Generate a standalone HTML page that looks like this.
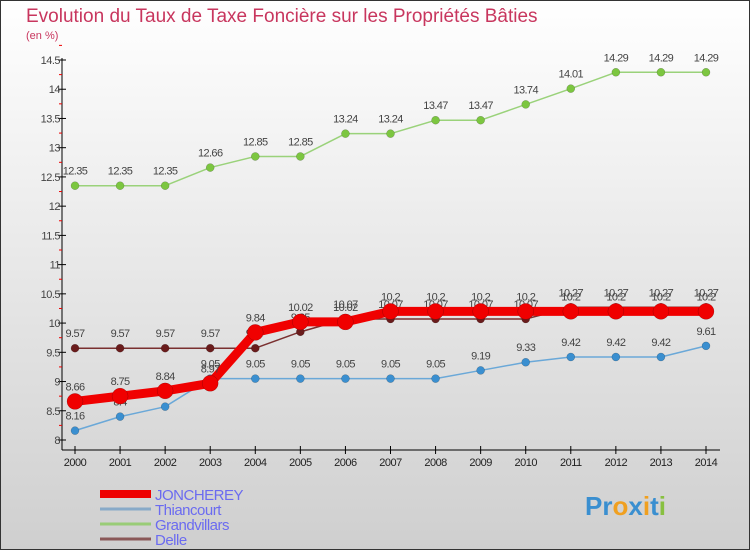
<!DOCTYPE html>
<html><head><meta charset="utf-8"><style>
html,body{margin:0;padding:0}
body{width:750px;height:550px;overflow:hidden;font-family:"Liberation Sans",sans-serif}
svg{display:block}
</style></head><body>
<svg id="chart" width="750" height="550">
<defs><linearGradient id="bg" x1="0" y1="0" x2="0" y2="1"><stop offset="0" stop-color="#ffffff"/><stop offset="1" stop-color="#cfcfcf"/></linearGradient></defs>
<rect x="0.5" y="0.5" width="749" height="549" fill="url(#bg)" stroke="#333"/>
<text x="26" y="22" font-size="19" fill="#c8365e">Evolution du Taux de Taxe Foncière sur les Propriétés Bâties</text>
<text x="26" y="39" font-size="11" fill="#c8365e">(en %)</text>
<g id="axes"></g><g id="series"></g><g id="legend"></g>
<g font-size="26" font-weight="bold">
<text x="585" y="515"><tspan fill="#3a8fd0">Pr</tspan><tspan fill="#f0a020">o</tspan><tspan fill="#3a8fd0">x</tspan><tspan fill="#f0a020">i</tspan><tspan fill="#3a8fd0">t</tspan><tspan fill="#88c040">i</tspan></text>
</g>
</svg>
<script>
const years=[2000,2001,2002,2003,2004,2005,2006,2007,2008,2009,2010,2011,2012,2013,2014];
const joncherey=[8.66,8.75,8.84,8.97,9.84,10.02,10.02,10.2,10.2,10.2,10.2,10.2,10.2,10.2,10.2];
const thiancourt=[8.16,8.4,8.57,9.05,9.05,9.05,9.05,9.05,9.05,9.19,9.33,9.42,9.42,9.42,9.61];
const grandvillars=[12.35,12.35,12.35,12.66,12.85,12.85,13.24,13.24,13.47,13.47,13.74,14.01,14.29,14.29,14.29];
const delle=[9.57,9.57,9.57,9.57,9.57,9.85,10.07,10.07,10.07,10.07,10.07,10.27,10.27,10.27,10.27];
const yTicks=[8,8.5,9,9.5,10,10.5,11,11.5,12,12.5,13,13.5,14,14.5];
const NS='http://www.w3.org/2000/svg';
const x=i=>75+i*(706-75)/(years.length-1);
const y=v=>440-(v-8)*(380/6.5);
function mk(tag,attrs,parent,text){const e=document.createElementNS(NS,tag);for(const k in attrs)e.setAttribute(k,attrs[k]);if(text!==undefined)e.textContent=text;parent.appendChild(e);return e;}
const axes=document.getElementById('axes');
let a=mk('line',{x1:62,y1:58,x2:62,y2:450,stroke:'#000'},axes);


a=mk('line',{x1:62,y1:450,x2:720,y2:450,stroke:'#000'},axes);


yTicks.forEach(v=>{
  mk('line',{x1:58,y1:y(v),x2:66,y2:y(v),stroke:'#000'},axes);
  mk('line',{x1:59,y1:y(v+0.25),x2:62,y2:y(v+0.25),stroke:'#e00'},axes);
  const t=mk('text',{x:60,y:y(v)+4,'font-size':11,'text-anchor':'end',fill:'#444','letter-spacing':'-0.5'},axes,String(v));
  
  
});
years.forEach((yr,i)=>{
  mk('line',{x1:x(i),y1:446,x2:x(i),y2:454,stroke:'#000'},axes);
  const t=mk('text',{x:x(i),y:466,'font-size':11,'text-anchor':'middle',fill:'#222','letter-spacing':'-0.5'},axes,String(yr));
  
  
});
const series=document.getElementById('series');
function draw(data,color,dot,w,r,name,lblColor){
  const g=mk('g',{},series);
  
  
  const l=mk('polyline',{points:data.map((v,i)=>x(i)+','+y(v)).join(' '),fill:'none',stroke:color,'stroke-width':w,'stroke-linejoin':'round'},g);
  
  
  data.forEach((v,i)=>{
    const c=mk('circle',{cx:x(i),cy:y(v),r:r,fill:dot,stroke:'rgba(0,0,0,0.3)','stroke-width':0.5},g);
    
    
    const t=mk('text',{x:x(i),y:y(v)-11,'font-size':11,'text-anchor':'middle',fill:'#444','letter-spacing':'-0.6'},g,String(v));
    
    
  });
}
draw(grandvillars,'#9ad27a','#7cc640',1.5,4,'grandvillars');
draw(thiancourt,'#6aa8d8','#3a8fd0',1.5,4,'thiancourt');
draw(delle,'#7a3030','#6a1c1c',1.5,4,'delle');
draw(joncherey,'#f00000','#f00000',9,8,'joncherey');
const legend=document.getElementById('legend');
const lg=[['JONCHEREY','#ee0000',8],['Thiancourt','#88aac8',3],['Grandvillars','#99cc77',3],['Delle','#8a5858',3]];
lg.forEach((e,i)=>{
  const yy=494+i*15;
  const s=mk('line',{x1:100,y1:yy,x2:151,y2:yy,stroke:e[1],'stroke-width':e[2]},legend);
  
  
  const t=mk('text',{x:155,y:yy+6,'font-size':15,fill:'#6b6bf0','letter-spacing':'-0.5'},legend,e[0]);
  
  
});
</script>
</body></html>
